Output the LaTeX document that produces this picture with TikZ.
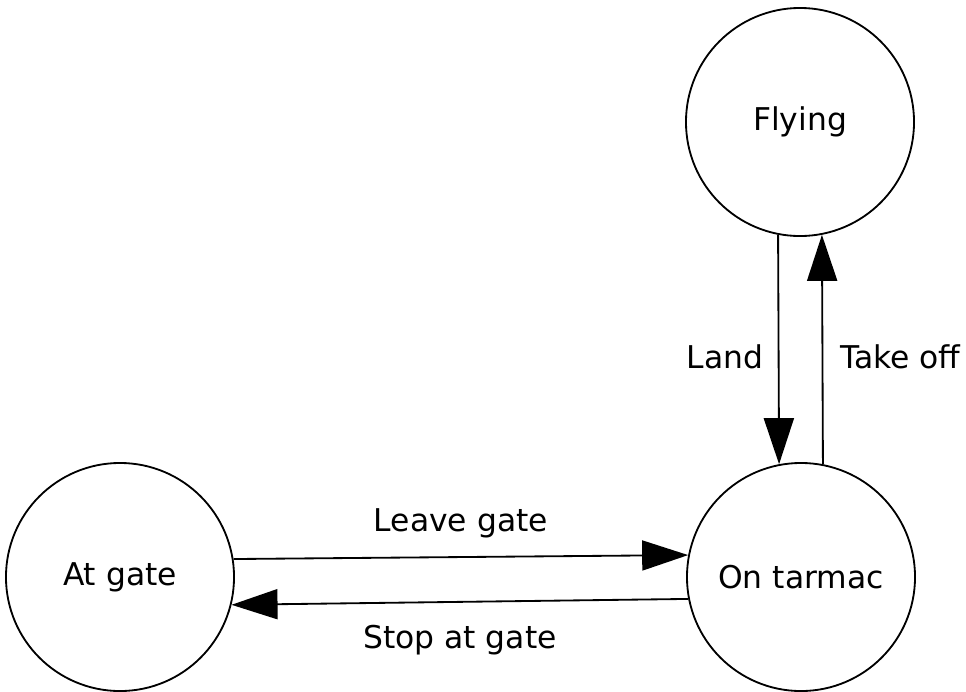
\documentclass[tikz,border=0pt]{standalone}
\usepackage{fontspec}
\setmainfont{DejaVu Sans}
\usetikzlibrary{arrows.meta}
\newcommand{\statefont}{\fontsize{22.3}{26}\selectfont}
\tikzset{
  state/.style={circle,draw,line width=1.3pt,minimum size=5.7cm,inner sep=0pt,font=\statefont},
  trans/.style={-{Triangle[length=1.15cm,width=0.75cm]},line width=1.3pt},
  lbl/.style={font=\statefont}
}

\begin{document}
\begin{tikzpicture}[x=0.025cm,y=-0.025cm]
  \useasboundingbox (0,0) rectangle (966,691);
  % states
  \node[state] (fly) at (800,122) {Flying};
  \node[state] (gate) at (120,577) {At gate};
  \node[state] (tarmac) at (801,577) {On tarmac};
  % transitions between air and ground
  \draw[trans] (fly.259) -- node[lbl,pos=0.53,left=0.25cm] {Land} (tarmac.101);
  \draw[trans] (tarmac.79) -- node[lbl,pos=0.47,right=0.3cm] {Take off} (fly.281);
  % transitions at the gate
  \draw[trans] (gate.9) -- node[lbl,yshift=0.85cm] {Leave gate} (tarmac.169);
  \draw[trans] (tarmac.191) -- node[lbl,yshift=-0.95cm] {Stop at gate} (gate.-14);
\end{tikzpicture}
\end{document}
